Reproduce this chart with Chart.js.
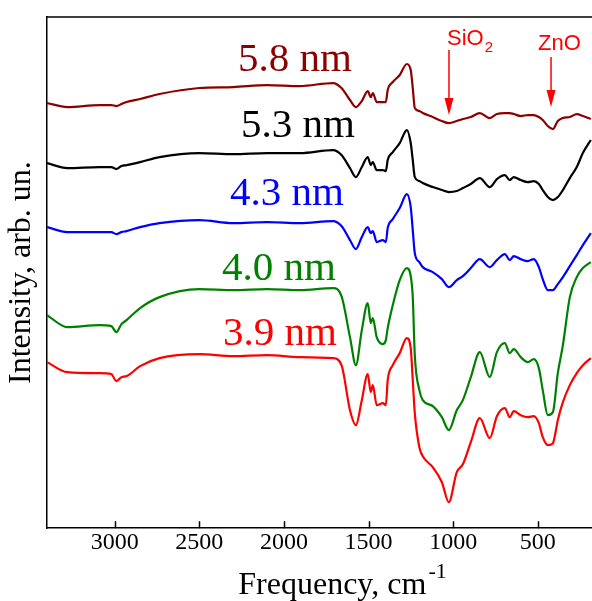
<!DOCTYPE html>
<html>
<head>
<meta charset="utf-8">
<script src="https://cdn.jsdelivr.net/npm/chart.js@4.4.1/dist/chart.umd.min.js"></script>
<style>
    html, body { margin: 0; padding: 0; background: #fff; }
    #wrap { width: 592px; height: 601px; }
</style>
</head>
<body>
<div id="wrap"><canvas id="ir-chart" width="592" height="601"></canvas></div>
<script>
// Wavenumbers (cm-1), shared by all five spectra
const freq = [3400, 3280, 3090, 3020, 2990, 2960, 2930, 2850, 2735, 2500, 2300, 2100, 1905, 1710, 1660,
              1610, 1575, 1540, 1505, 1487, 1475, 1452, 1416, 1398, 1387, 1357, 1316, 1274, 1251, 1239,
              1227, 1200, 1180, 1121, 1067, 1026, 979, 943, 896, 843, 784, 742, 695, 666, 642,
              601, 559, 524, 494, 471, 441, 411, 382, 352, 311, 270, 234, 187];

// Intensity (arb. un., already offset) — one array per particle size
const int39 = [166, 156, 155, 154, 147, 151, 152, 162, 170, 174, 172, 173, 171, 170, 163,
               118, 103, 128, 154, 136, 143, 123, 125, 123, 148, 163, 175, 190, 180, 148,
               115, 81, 72, 61, 46, 26, 56, 64, 86, 110, 90, 112, 120, 111, 117,
               113, 111, 112, 105, 91, 83, 85, 108, 126, 143, 155, 163, 170];
const int40 = [213, 201, 203, 202, 196, 204, 208, 220, 231, 239, 238, 239, 238, 240, 232,
               191, 163, 198, 225, 205, 210, 191, 184, 188, 200, 223, 248, 260, 252, 231,
               173, 138, 128, 122, 111, 98, 118, 128, 151, 176, 151, 176, 185, 175, 179,
               171, 166, 169, 160, 138, 113, 116, 155, 183, 231, 251, 260, 266];
const int43 = [301, 296, 296, 296, 294, 296, 297, 301, 305, 308, 305, 306, 305, 307, 302,
               288, 279, 291, 301, 295, 297, 286, 288, 286, 300, 309, 320, 334, 321, 298,
               275, 266, 261, 256, 249, 241, 248, 252, 260, 269, 261, 268, 274, 268, 272,
               269, 267, 269, 261, 249, 238, 238, 244, 251, 262, 273, 283, 295];
const int53 = [365, 360, 361, 361, 359, 362, 363, 366, 371, 375, 374, 375, 375, 378, 373,
               360, 351, 361, 371, 363, 366, 358, 358, 357, 368, 376, 385, 398, 385, 368,
               351, 347, 345, 341, 338, 336, 337, 340, 344, 350, 341, 349, 353, 348, 351,
               348, 346, 347, 344, 338, 331, 328, 331, 338, 350, 361, 375, 388];
const int58 = [425, 421, 423, 423, 422, 424, 426, 429, 434, 440, 441, 443, 442, 445, 440,
               428, 421, 427, 437, 431, 435, 426, 426, 426, 438, 446, 453, 464, 458, 440,
               420, 417, 415, 411, 407, 405, 407, 409, 411, 415, 410, 414, 415, 415, 414,
               412, 413, 413, 411, 408, 402, 399, 407, 410, 411, 414, 412, 409];

const sizeNames = ['3.9 nm', '4.0 nm', '4.3 nm', '5.3 nm', '5.8 nm'];
const xTicks = [3000, 2500, 2000, 1500, 1000, 500];

// ── Styling / annotation placement ─────────────────────────────────────────

const SERIF = "'Liberation Serif', 'Times New Roman', serif";
const SANS = "'Liberation Sans', Arial, sans-serif";

const SERIES = [
    { values: int39, color: '#ff0000' },
    { values: int40, color: '#008000' },
    { values: int43, color: '#0000ff' },
    { values: int53, color: '#000000' },
    { values: int58, color: '#8b0000' },
];

// label anchor (left edge, baseline) in data coordinates
const LABEL_POS = [
    { freq: 2360, level: 183 },
    { freq: 2366, level: 248 },
    { freq: 2319, level: 323 },
    { freq: 2254, level: 391 },
    { freq: 2272, level: 457 },
];

// band markers: arrow from level `from` down to `to`
const BANDS = [
    { text: 'SiO', sub: '2', freq: 1025, from: 478, to: 413, dx: -2, textLevel: 483 },
    { text: 'ZnO', sub: '',  freq: 422,  from: 471, to: 421, dx: -13, textLevel: 478 },
];

const decor = {
    id: 'decor',
    afterDraw(chart) {
        const { ctx, chartArea: a, scales: { x, y } } = chart;
        ctx.save();

        // top frame + inward ticks
        ctx.strokeStyle = '#000';
        ctx.lineWidth = 1.5;
        ctx.beginPath();
        ctx.moveTo(a.left, a.top);
        ctx.lineTo(a.right, a.top);
        xTicks.forEach(v => {
            const px = Math.round(x.getPixelForValue(v)) + 0.5;
            ctx.moveTo(px, a.bottom);
            ctx.lineTo(px, a.bottom - 7);
        });
        ctx.stroke();

        // size labels
        ctx.textBaseline = 'alphabetic';
        ctx.textAlign = 'left';
        ctx.font = `41px ${SERIF}`;
        sizeNames.forEach((name, i) => {
            ctx.fillStyle = SERIES[i].color;
            ctx.fillText(name, x.getPixelForValue(LABEL_POS[i].freq), y.getPixelForValue(LABEL_POS[i].level));
        });

        // band arrows
        ctx.strokeStyle = '#ff0000';
        ctx.fillStyle = '#ff0000';
        ctx.lineWidth = 1.5;
        BANDS.forEach(b => {
            const px = x.getPixelForValue(b.freq);
            const y0 = y.getPixelForValue(b.from);
            const y1 = y.getPixelForValue(b.to);
            ctx.beginPath();
            ctx.moveTo(px, y0);
            ctx.lineTo(px, y1 - 14);
            ctx.stroke();
            ctx.beginPath();
            ctx.moveTo(px - 4.5, y1 - 17);
            ctx.lineTo(px + 4.5, y1 - 17);
            ctx.lineTo(px, y1);
            ctx.closePath();
            ctx.fill();

            ctx.font = `22px ${SANS}`;
            const tx = px + b.dx;
            const ty = y.getPixelForValue(b.textLevel);
            ctx.fillText(b.text, tx, ty);
            if (b.sub) {
                const w = ctx.measureText(b.text).width;
                ctx.font = `15px ${SANS}`;
                ctx.fillText(b.sub, tx + w + 1, ty + 7);
            }
        });

        // x-axis title with superscript
        ctx.fillStyle = '#000';
        ctx.font = `32px ${SERIF}`;
        const main = 'Frequency, cm';
        const wMain = ctx.measureText(main).width;
        ctx.font = `22px ${SERIF}`;
        const wSup = ctx.measureText('-1').width;
        const startX = (a.left + a.right) / 2 + 22 - (wMain + wSup) / 2;
        ctx.font = `32px ${SERIF}`;
        ctx.fillText(main, startX, 594);
        ctx.font = `22px ${SERIF}`;
        ctx.fillText('-1', startX + wMain + 2, 578);

        ctx.restore();
    },
};

new Chart(document.getElementById('ir-chart'), {
    type: 'line',
    data: {
        datasets: SERIES.map((s, i) => ({
            label: sizeNames[i],
            data: freq.map((f, k) => ({ x: f, y: s.values[k] })),
            borderColor: s.color,
            backgroundColor: s.color,
            borderWidth: 2.2,
            pointRadius: 0,
            cubicInterpolationMode: 'monotone',
            fill: false,
        })),
    },
    options: {
        responsive: false,
        animation: false,
        events: [],
        layout: { padding: { left: 6, top: 17, right: 0, bottom: 44 } },
        plugins: {
            legend: { display: false },
            tooltip: { enabled: false },
        },
        scales: {
            x: {
                type: 'linear',
                reverse: true,
                min: 180,
                max: 3400,
                afterBuildTicks: s => { s.ticks = xTicks.map(v => ({ value: v })); },
                grid: { display: false, drawTicks: false },
                border: { display: true, color: '#000', width: 1.5 },
                ticks: {
                    color: '#000',
                    font: { family: SERIF, size: 24 },
                    padding: 0,
                    maxRotation: 0,
                    autoSkip: false,
                    callback: v => String(v),
                },
            },
            y: {
                type: 'linear',
                min: 0,
                max: 511,
                grid: { display: false, drawTicks: false },
                border: { display: true, color: '#000', width: 1.5 },
                ticks: { display: false },
                title: {
                    display: true,
                    text: 'Intensity, arb. un.',
                    color: '#000',
                    font: { family: SERIF, size: 32, lineHeight: 1 },
                    padding: { top: 0, bottom: 9 },
                },
            },
        },
    },
    plugins: [decor],
});
</script>
</body>
</html>
